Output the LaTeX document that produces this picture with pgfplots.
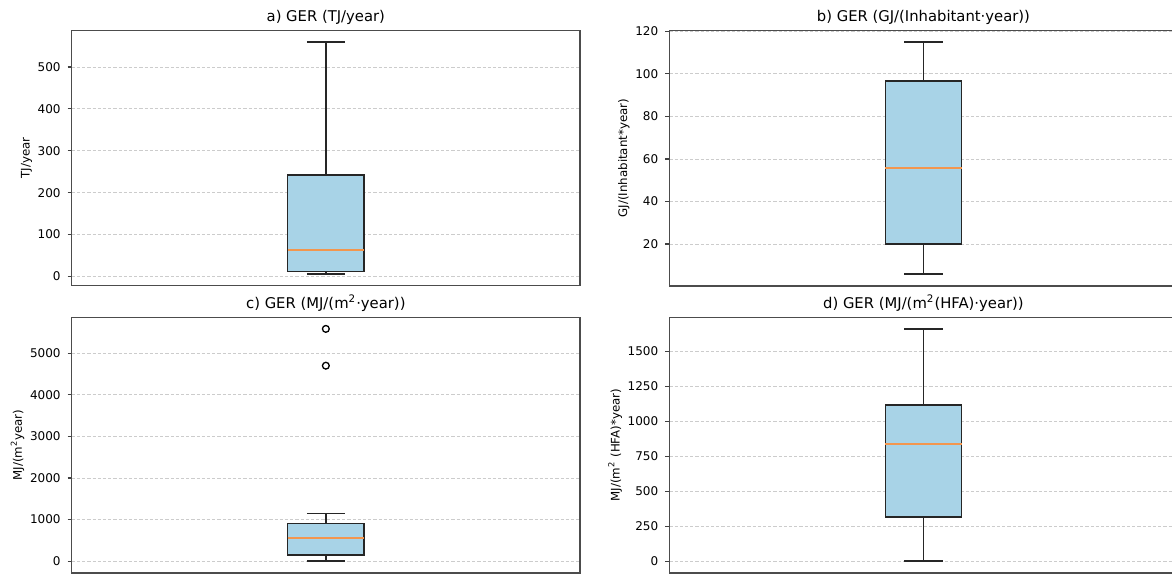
\documentclass[border=0pt]{standalone}
\usepackage{fontspec}
\setmainfont{DejaVu Sans}
\usepackage{pgfplots}
\pgfplotsset{compat=1.18}
\definecolor{boxfill}{RGB}{168,211,231}
\definecolor{medcol}{RGB}{243,150,78}

\pgfplotsset{
  gerbox/.style={
    scale only axis, width=254.15pt, height=127.6pt,
    anchor=north west,
    xmin=0.5, xmax=1.5, xtick=\empty,
    ytick pos=left, tick align=outside, major tick length=2pt,
    ymajorgrids, grid style={dash pattern=on 1.6pt off 1pt, gray!40, line width=0.45pt},
    axis line style={black!70, line width=0.8pt},
    tick style={black!75, line width=0.6pt},
    tick label style={font=\fontsize{6}{7}\selectfont},
    label style={font=\fontsize{5.9}{7}\selectfont},
    ylabel shift=-4pt,
    every axis title/.style={font=\fontsize{7.4}{9}\selectfont, at={(0.5,1)}, anchor=base, yshift=4.3pt},
    /pgf/number format/assume math mode=true,
    /pgf/number format/1000 sep={},
    scaled y ticks=false,
  },
  boxline/.style={draw=black!85, line width=0.75pt, mark=none},
  medline/.style={draw=medcol, line width=0.9pt, mark=none},
}

% box centred at x=1, half width 0.075, whisker caps half width 0.0375
\begin{document}
\begin{tikzpicture}
% a) GER (TJ/year): whiskers 5.7 / 560, quartiles 12 / 242, median 63.5
\begin{axis}[gerbox, at={(35.85pt,272.25pt)},
  title={a) GER (TJ/year)}, ylabel={TJ/year},
  ymin=-22, ymax=587, ytick={0,100,...,500}]
\addplot[boxline] coordinates {(1,5.7) (1,12)};
\addplot[boxline] coordinates {(1,242) (1,560)};
\addplot[boxline] coordinates {(0.9625,5.7) (1.0375,5.7)};
\addplot[boxline] coordinates {(0.9625,560) (1.0375,560)};
\addplot[boxline, fill=boxfill] coordinates {(0.925,12) (1.075,12) (1.075,242) (0.925,242)} -- cycle;
\addplot[medline] coordinates {(0.925,63.5) (1.075,63.5)};
\end{axis}

% b) GER (GJ/(Inhabitant year)): whiskers 5.8 / 115, quartiles 20 / 96.7, median 55.9
\begin{axis}[gerbox, at={(334.65pt,272.25pt)},
  title={b) GER (GJ/(Inhabitant·year))}, ylabel={GJ/(Inhabitant*year)},
  ymin=0.4, ymax=120.4, ytick={20,40,...,120}]
\addplot[boxline] coordinates {(1,5.8) (1,20)};
\addplot[boxline] coordinates {(1,96.7) (1,115)};
\addplot[boxline] coordinates {(0.9625,5.8) (1.0375,5.8)};
\addplot[boxline] coordinates {(0.9625,115) (1.0375,115)};
\addplot[boxline, fill=boxfill] coordinates {(0.925,20) (1.075,20) (1.075,96.7) (0.925,96.7)} -- cycle;
\addplot[medline] coordinates {(0.925,55.9) (1.075,55.9)};
\end{axis}

% c) GER (MJ/(m2 year)): whiskers 0 / 1145, quartiles 145 / 905, median 555, outliers 4700, 5585
\begin{axis}[gerbox, at={(35.85pt,128.75pt)},
  title={c) GER (MJ/(m\textsuperscript{2}·year))}, ylabel={MJ/(m\textsuperscript{2}year)},
  ymin=-279, ymax=5859, ytick={0,1000,...,5000}]
\addplot[boxline] coordinates {(1,0) (1,145)};
\addplot[boxline] coordinates {(1,905) (1,1145)};
\addplot[boxline] coordinates {(0.9625,0) (1.0375,0)};
\addplot[boxline] coordinates {(0.9625,1145) (1.0375,1145)};
\addplot[boxline, fill=boxfill] coordinates {(0.925,145) (1.075,145) (1.075,905) (0.925,905)} -- cycle;
\addplot[medline] coordinates {(0.925,555) (1.075,555)};
\addplot[only marks, mark=o, mark size=1.7pt, mark options={draw=black, line width=0.65pt}]
  coordinates {(1,4700) (1,5585)};
\end{axis}

% d) GER (MJ/(m2(HFA) year)): whiskers 0 / 1662, quartiles 317 / 1118, median 840
\begin{axis}[gerbox, at={(334.65pt,128.75pt)},
  title={d) GER (MJ/(m\textsuperscript{2}(HFA)·year))}, ylabel={MJ/(m\textsuperscript{2} (HFA)*year)},
  ymin=-83, ymax=1744, ytick={0,250,...,1500}]
\addplot[boxline] coordinates {(1,0) (1,317)};
\addplot[boxline] coordinates {(1,1118) (1,1662)};
\addplot[boxline] coordinates {(0.9625,0) (1.0375,0)};
\addplot[boxline] coordinates {(0.9625,1662) (1.0375,1662)};
\addplot[boxline, fill=boxfill] coordinates {(0.925,317) (1.075,317) (1.075,1118) (0.925,1118)} -- cycle;
\addplot[medline] coordinates {(0.925,840) (1.075,840)};
\end{axis}

\pgfresetboundingbox
\useasboundingbox (0,0) rectangle (586pt,287.5pt);
\end{tikzpicture}
\end{document}
